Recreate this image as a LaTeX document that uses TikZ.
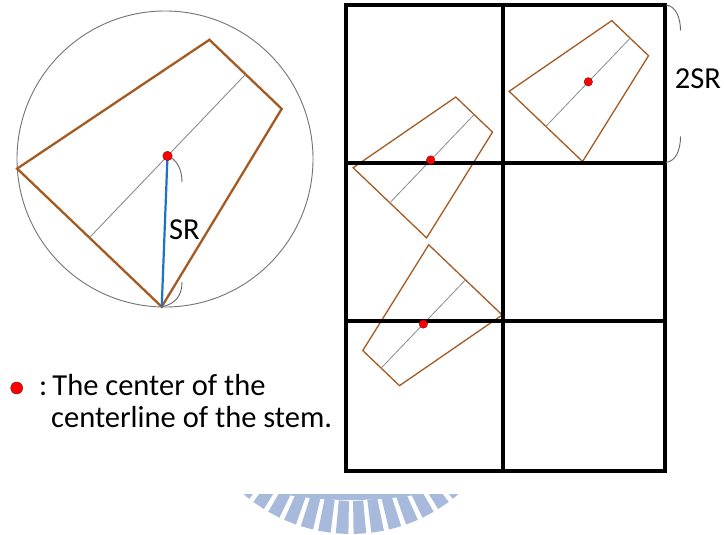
\documentclass[tikz,border=0pt]{standalone}
\usepackage{fontspec}
\setmainfont{Carlito}
\definecolor{stembrown}{RGB}{165,90,34}
\definecolor{srblue}{RGB}{28,115,196}
\definecolor{wmblue}{RGB}{168,186,220}
\definecolor{dotedge}{RGB}{120,20,20}
\tikzset{
  trapline/.style={draw=stembrown, line width=1.3pt, line join=miter},
  cline/.style={draw=black!45, line width=0.8pt},
  reddot/.style={circle, fill=red, draw=dotedge, line width=0.4pt, inner sep=0pt, minimum size=8.5pt},
  gridline/.style={draw=black, line width=3.3pt},
  bracearc/.style={draw=black!60, line width=0.9pt},
  lbl/.style={font=\fontsize{30.5}{36}\selectfont, inner sep=0pt},
  wmbar/.style={fill=wmblue, draw=none},
  small/.style={rotate=46.3, xscale=0.54, yscale=0.508},
  stem/.pic={
    \draw[trapline] (113,-50) -- (113,50) -- (-113,100) -- (-113,-100) -- cycle;
    \draw[cline] (113,0) -- (-113,0);
    \coordinate (-tip) at (-113,100);
  }
}
\begin{document}
\begin{tikzpicture}[x=1pt,y=-1pt]
\useasboundingbox (0,0) rectangle (724,535);
\fill[white] (0,0) rectangle (724,535);

% left circle
\node[circle, draw=black!55, line width=0.9pt, minimum size=296pt, inner sep=0pt] (ring) at (165,159) {};
\coordinate (m0) at (167.5,156);
\pic[rotate=46.3, trapline/.append style={line width=2.3pt}, cline/.append style={line width=0.9pt}] (big) at (m0) {stem};
\draw[srblue, line width=2.2pt] (m0) -- (big-tip);
\draw[bracearc] (m0) .. controls (177,159) and (182,170) .. (182,182);
\draw[bracearc] (182,282) .. controls (182,295) and (176,304) .. (big-tip);
\node[reddot, minimum size=9.5pt] (d0) at (m0) {};
\node[lbl] (sr) at (184.5,229.5) {SR};

% right grid stems
\coordinate (m1) at (588,82.3);
\coordinate (m2) at (432,158.7);
\coordinate (m3) at (423.3,324);
\pic[small] (tr) at (m1) {stem};
\pic[small] (ml) at (m2) {stem};
\pic[small, rotate=180] (lo) at (m3) {stem};

% grid
\coordinate (g00) at (346,5);
\coordinate (g11) at (665,471);
\draw[gridline] (g00) rectangle (g11);
\draw[gridline] (503,5) -- (503,471);
\draw[gridline] (346,163) -- (665,163);
\draw[gridline] (346,321) -- (665,321);

\node[reddot] (d1) at (588.3,81.8) {};
\node[reddot] (d2) at (430.7,160) {};
\node[reddot] (d3) at (m3) {};

% 2SR bracket
\draw[bracearc] (666,5) .. controls (676,6) and (680.5,18) .. (680.5,30.5);
\draw[bracearc] (680.5,136.5) .. controls (680.5,150) and (676,161) .. (666,162.5);
\node[lbl] (tsr) at (698,78.3) {2SR};

% legend
\node[reddot, minimum size=12pt] (ld) at (16.7,388) {};
\node[lbl, anchor=base west] (l1) at (39,395) {:\,The center of the};
\node[lbl, anchor=base west] (l2) at (51,427) {centerline of the stem.};

% watermark
\begin{scope}
\clip (0,494) rectangle (724,535);
\foreach \a in {-40.3,-34.1,-27.9,-21.7,-15.5,-9.3,-3.1,3.1,9.3,15.5,21.7,27.9,34.1,40.3}{
  \fill[wmbar] ({351+132*sin(\a-2.2)},{369+132*cos(\a-2.2)}) -- ({351+165*sin(\a-2.2)},{369+165*cos(\a-2.2)}) -- ({351+165*sin(\a+2.2)},{369+165*cos(\a+2.2)}) -- ({351+132*sin(\a+2.2)},{369+132*cos(\a+2.2)}) -- cycle;
}
\fill[wmblue] (351,100) circle (400);
\end{scope}
\end{tikzpicture}
\end{document}
